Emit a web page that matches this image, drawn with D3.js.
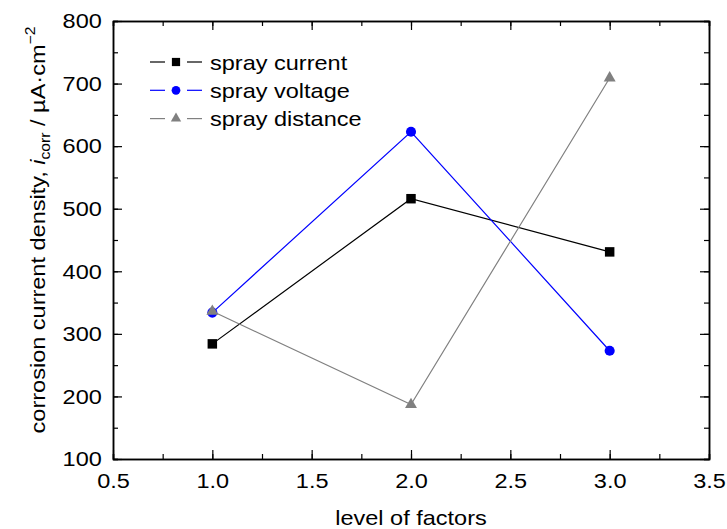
<!DOCTYPE html>
<html>
<head>
<meta charset="utf-8">
<script src="https://cdn.jsdelivr.net/npm/d3@7"></script>
<style>
  body { margin: 0; background: #fff; }
  svg text { font-family: "Liberation Sans", Arial, Helvetica, sans-serif; fill: #000; }
</style>
</head>
<body>
<div id="chart"></div>
<script>
// level of factors
const levels = [1.0, 2.0, 3.0];

// corrosion current density per factor (µA·cm^-2)
const sprayCurrent = [284, 516, 431];
const sprayVoltage = [334, 623, 273];
const sprayDistance = [336, 187, 709];

const xTicks = [0.5, 1.0, 1.5, 2.0, 2.5, 3.0, 3.5];
const yTicks = [100, 200, 300, 400, 500, 600, 700, 800];

const series = [
  { name: "spray current", values: sprayCurrent, color: "#000000", symbol: d3.symbolSquare, size: 90 },
  { name: "spray voltage", values: sprayVoltage, color: "#0000ff", symbol: d3.symbolCircle, size: 80 },
  { name: "spray distance", values: sprayDistance, color: "#808080", symbol: d3.symbolTriangle, size: 62 }
];

const W = 727, H = 529;
const margin = { left: 113, right: 18, top: 21, bottom: 70 };
const SX = 1.12; // text in the original is a bit wide

const svg = d3.select("#chart").append("svg")
  .attr("width", W).attr("height", H);

const x = d3.scaleLinear().domain([0.5, 3.5]).range([margin.left, W - margin.right]);
const y = d3.scaleLinear().domain([100, 800]).range([H - margin.bottom, margin.top]);

const minorX = d3.range(0.5, 3.5001, 0.25);
const minorY = d3.range(100, 800.001, 50);

function styleAxis(g) {
  g.selectAll(".domain").attr("stroke", "#000").attr("stroke-width", 1.5);
  g.selectAll(".tick line").attr("stroke", "#000").attr("stroke-width", 1.2);
  g.selectAll(".tick text").style("font-size", "21px")
    .attr("transform", `scale(${SX},1)`);
}

// minor ticks on all four sides
const gMinor = svg.append("g");
gMinor.append("g").attr("transform", `translate(0,${y(100)})`)
  .call(d3.axisBottom(x).tickValues(minorX).tickSize(-5).tickFormat(""))
  .call(styleAxis);
gMinor.append("g").attr("transform", `translate(0,${y(800)})`)
  .call(d3.axisTop(x).tickValues(minorX).tickSize(-5).tickFormat(""))
  .call(styleAxis);
gMinor.append("g").attr("transform", `translate(${x(0.5)},0)`)
  .call(d3.axisLeft(y).tickValues(minorY).tickSize(-5).tickFormat(""))
  .call(styleAxis);
gMinor.append("g").attr("transform", `translate(${x(3.5)},0)`)
  .call(d3.axisRight(y).tickValues(minorY).tickSize(-5).tickFormat(""))
  .call(styleAxis);

// major ticks
svg.append("g").attr("transform", `translate(0,${y(100)})`)
  .call(d3.axisBottom(x).tickValues(xTicks).tickSizeInner(-9).tickSizeOuter(0).tickPadding(14.5).tickFormat(d3.format(".1f")))
  .call(styleAxis);
svg.append("g").attr("transform", `translate(0,${y(800)})`)
  .call(d3.axisTop(x).tickValues(xTicks).tickSizeInner(-9).tickSizeOuter(0).tickFormat(""))
  .call(styleAxis);
svg.append("g").attr("transform", `translate(${x(0.5)},0)`)
  .call(d3.axisLeft(y).tickValues(yTicks).tickSizeInner(-9).tickSizeOuter(0).tickPadding(10).tickFormat(d3.format("d")))
  .call(styleAxis);
svg.append("g").attr("transform", `translate(${x(3.5)},0)`)
  .call(d3.axisRight(y).tickValues(yTicks).tickSizeInner(-9).tickSizeOuter(0).tickFormat(""))
  .call(styleAxis);

// lines and markers
const line = d3.line().x((d, i) => x(levels[i])).y(d => y(d));

series.forEach(s => {
  svg.append("path")
    .datum(s.values)
    .attr("d", line)
    .attr("fill", "none")
    .attr("stroke", s.color)
    .attr("stroke-width", 1.2);
});

series.forEach(s => {
  svg.append("g").selectAll("path")
    .data(s.values)
    .join("path")
    .attr("transform", (d, i) => `translate(${x(levels[i])},${y(d)})`)
    .attr("d", d3.symbol().type(s.symbol).size(s.size))
    .attr("fill", s.color);
});

// legend
const legend = svg.append("g").attr("transform", "translate(150,62)");
series.forEach((s, i) => {
  const g = legend.append("g").attr("transform", `translate(0,${i * 28.3})`);
  g.append("line").attr("x1", 0).attr("x2", 15).attr("y1", 0).attr("y2", 0)
    .attr("stroke", s.color).attr("stroke-width", 1.2);
  g.append("line").attr("x1", 37).attr("x2", 52).attr("y1", 0).attr("y2", 0)
    .attr("stroke", s.color).attr("stroke-width", 1.2);
  g.append("path").attr("transform", "translate(26,0)")
    .attr("d", d3.symbol().type(s.symbol).size(s.size * 0.75))
    .attr("fill", s.color);
  g.append("text").attr("transform", `translate(60,7.5) scale(${SX},1)`)
    .style("font-size", "21px").text(s.name);
});

// axis titles
svg.append("text")
  .attr("transform", `translate(${(x(0.5) + x(3.5)) / 2},525) scale(${SX},1)`)
  .attr("text-anchor", "middle")
  .style("font-size", "21px")
  .text("level of factors");

const yt = svg.append("text")
  .attr("transform", `translate(45,230) rotate(-90) scale(${SX},1)`)
  .attr("text-anchor", "middle")
  .style("font-size", "21px");
yt.append("tspan").text("corrosion current density, ");
yt.append("tspan").style("font-style", "italic").text("i");
yt.append("tspan").attr("dy", 5).style("font-size", "14px").text("corr");
yt.append("tspan").attr("dy", -5).text(" / µA·cm");
yt.append("tspan").attr("dy", -10).style("font-size", "14px").text("−2");
</script>
</body>
</html>
